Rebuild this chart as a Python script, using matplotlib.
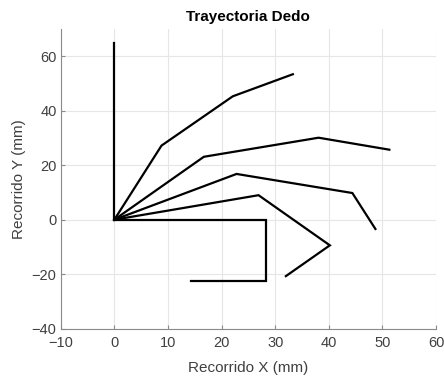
import matplotlib
matplotlib.use("Agg")
import matplotlib.pyplot as plt

plt.rcParams['font.family'] = ['Liberation Sans', 'DejaVu Sans']

# Finger trajectory segments (x, y in mm)
x1 = [0, 0]
y1 = [0, 65]
x2 = [0, 8.8, 22.1, 33.3]
y2 = [0, 27.2, 45.3, 53.4]
x3 = [0, 16.7, 38.1, 51.3]
y3 = [0, 23.1, 30.1, 25.7]
x4 = [0, 22.8, 44.4, 48.7]
y4 = [0, 16.8, 9.8, -3.4]
x5 = [0, 26.9, 40.2, 32.0]
y5 = [0, 9.0, -9.4, -20.7]
x6 = [0, 28.3, 28.3, 14.3]
y6 = [0, 0, -22.4, -22.4]

xticks = [-10, 0, 10, 20, 30, 40, 50, 60]
yticks = [-40, -20, 0, 20, 40, 60]

fig = plt.figure(figsize=(4.44, 3.79), dpi=100)
ax = fig.add_axes([60.7/444, 1 - 328.7/379, (436 - 60.7)/444, (328.7 - 29)/379])

for xs, ys in [(x1, y1), (x2, y2), (x3, y3), (x4, y4), (x5, y5), (x6, y6)]:
    ax.plot(xs, ys, color='black', lw=1.6, solid_joinstyle='miter')

ax.set_xlim(-10, 60)
ax.set_ylim(-40, 70)
ax.set_xticks(xticks)
ax.set_yticks(yticks)
ax.grid(True, color='#e6e6e6', lw=0.8)
ax.set_axisbelow(True)
for s in ['top', 'right']:
    ax.spines[s].set_visible(False)
for s in ['left', 'bottom']:
    ax.spines[s].set_color('#8a8a8a')
    ax.spines[s].set_linewidth(0.8)
ax.tick_params(direction='in', length=3, color='#8a8a8a', labelcolor='#404040', labelsize=10.5)
ax.tick_params(axis='x', pad=5)
ax.tick_params(axis='y', pad=3)

ax.set_title('Trayectoria Dedo', fontsize=11, fontweight='bold', color='black', pad=6)
ax.set_xlabel('Recorrido X (mm)', fontsize=11, color='#404040', labelpad=8)
ax.set_ylabel('Recorrido Y (mm)', fontsize=11, color='#404040', labelpad=4)

fig.savefig('out.png', dpi=100)
